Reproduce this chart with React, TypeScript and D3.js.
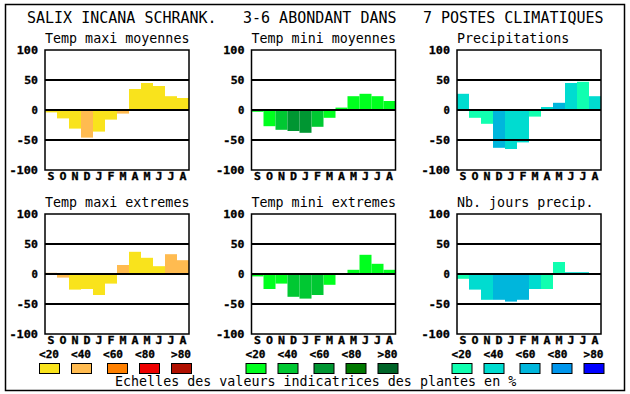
import React from "react";
import * as d3 from "d3";

const months = ["S", "O", "N", "D", "J", "F", "M", "A", "M", "J", "J", "A"];
const tickValues = [100, 50, 0, -50, -100];
const gridValues = [50, 0, -50];
const legendLabels = ["<20", "<40", "<60", "<80", ">80"];

const warmColors = ["#f9e31c", "#ffbb50", "#ff8000", "#ee0000", "#b01000"];
const greenColors = ["#00ff1e", "#00c832", "#009632", "#007800", "#006428"];
const blueColors = ["#10ffb0", "#00dcd0", "#00b6dc", "#0096ec", "#0000ff"];

// values (%) and class index (0..4 -> legend colour) per month
const tmaxMoyValues = [-4, -14, -31, -46, -36, -16, -6, 35, 45, 40, 23, 20];
const tmaxMoyClass = [0, 0, 0, 1, 0, 0, 1, 0, 0, 0, 0, 0];
const tminMoyValues = [-3, -27, -33, -35, -38, -28, -13, 4, 23, 27, 23, 15];
const tminMoyClass = [0, 0, 1, 2, 2, 1, 0, 0, 0, 0, 0, 0];
const precValues = [27, -13, -23, -63, -65, -54, -11, 5, 12, 45, 47, 23];
const precClass = [1, 0, 0, 2, 1, 1, 0, 1, 2, 1, 0, 1];
const tmaxExtValues = [2, -6, -26, -25, -35, -16, 15, 37, 27, 13, 33, 23];
const tmaxExtClass = [1, 1, 0, 0, 0, 0, 1, 0, 0, 0, 1, 1];
const tminExtValues = [-4, -25, -16, -38, -41, -35, -18, 0, 7, 32, 17, 7];
const tminExtClass = [0, 0, 0, 1, 1, 1, 0, 0, 0, 0, 0, 0];
const joursValues = [-8, -26, -43, -43, -46, -43, -25, -25, 20, 3, 3, 0];
const joursClass = [0, 1, 1, 2, 2, 2, 1, 0, 0, 1, 1, 0];

const FONT = "'DejaVu Sans Mono', monospace";
const PW = 144;
const PH = 120;

const panels = [
  { title: "Temp maxi moyennes", left: 45, top: 50, values: tmaxMoyValues, cls: tmaxMoyClass, colors: warmColors },
  { title: "Temp mini moyennes", left: 251.5, top: 50, values: tminMoyValues, cls: tminMoyClass, colors: greenColors },
  { title: "Precipitations", left: 457, top: 50, values: precValues, cls: precClass, colors: blueColors },
  { title: "Temp maxi extremes", left: 45, top: 214, values: tmaxExtValues, cls: tmaxExtClass, colors: warmColors },
  { title: "Temp mini extremes", left: 251.5, top: 214, values: tminExtValues, cls: tminExtClass, colors: greenColors },
  { title: "Nb. jours precip.", left: 457, top: 214, values: joursValues, cls: joursClass, colors: blueColors },
];

const legendGroups = [
  { x: 39, colors: warmColors },
  { x: 245.5, colors: greenColors },
  { x: 451.5, colors: blueColors },
];
const labelOffsets = [0, 32, 64, 96, 132];
const boxOffsets = [0, 32, 68, 100, 132];

// heavy, wide labels like the original bitmap font
const boldText = {
  fontFamily: FONT,
  fontWeight: "bold" as const,
  fontSize: 10,
  fill: "#000",
  stroke: "#000",
  strokeWidth: 0.3,
  lengthAdjust: "spacingAndGlyphs",
};

function Panel({ p }: { p: typeof panels[number] }) {
  const x = d3.scaleBand<string>().domain(d3.range(12).map(String)).range([p.left, p.left + PW]).padding(0);
  const y = d3.scaleLinear().domain([-100, 100]).range([p.top + PH, p.top]);
  return (
    <g>
      <text x={p.left} y={p.top - 7} fontFamily={FONT} fontSize={13.33} fill="#000">
        {p.title}
      </text>
      {p.values.map((v, i) => (
        <rect
          key={i}
          x={x(String(i))}
          y={Math.min(y(v), y(0))}
          width={x.bandwidth()}
          height={Math.abs(y(v) - y(0))}
          fill={p.colors[p.cls[i]]}
        />
      ))}
      {gridValues.map((g) => (
        <line key={g} x1={p.left} x2={p.left + PW} y1={y(g)} y2={y(g)} stroke="#000" strokeWidth={2} />
      ))}
      <rect x={p.left} y={p.top} width={PW} height={PH} fill="none" stroke="#000" strokeWidth={1.5} />
      {tickValues.map((t) => {
        const s = String(t);
        return (
          <text key={t} x={p.left - 7} y={y(t) + 3.6} textAnchor="end" textLength={s.length * 7.4 - 1} {...boldText}>
            {s}
          </text>
        );
      })}
      {months.map((m, i) => (
        <text
          key={i}
          x={(x(String(i)) as number) + x.bandwidth() / 2}
          y={p.top + PH + 10}
          textAnchor="middle"
          textLength={7}
          {...boldText}
        >
          {m}
        </text>
      ))}
    </g>
  );
}

export default function App() {
  return (
    <svg width={630} height={394} style={{ position: "absolute", left: 0, top: 0, background: "#fff" }}>
      <rect x={0} y={0} width={630} height={394} fill="#fff" />
      <rect x={5.5} y={4.5} width={619} height={386} fill="none" stroke="#000" strokeWidth={1.5} />
      <text x={27} y={23} fontFamily={FONT} fontSize={15} fill="#000">SALIX INCANA SCHRANK.</text>
      <text x={243} y={23} fontFamily={FONT} fontSize={15} fill="#000">3-6 ABONDANT DANS</text>
      <text x={423} y={23} fontFamily={FONT} fontSize={15} fill="#000">7 POSTES CLIMATIQUES</text>
      {panels.map((p, i) => (
        <Panel key={i} p={p} />
      ))}
      {legendGroups.map((g, gi) => (
        <g key={gi}>
          {legendLabels.map((l, i) => (
            <text key={l} x={g.x + labelOffsets[i]} y={358} textLength={20} {...boldText}>
              {l}
            </text>
          ))}
          {g.colors.map((c, i) => (
            <rect key={c} x={g.x + boxOffsets[i] + 0.5} y={363.5} width={20} height={10} fill={c} stroke="#000" strokeWidth={1} />
          ))}
        </g>
      ))}
      <text x={115} y={386} fontFamily={FONT} fontSize={13.33} fill="#000">
        Echelles des valeurs indicatrices des plantes en %
      </text>
    </svg>
  );
}
